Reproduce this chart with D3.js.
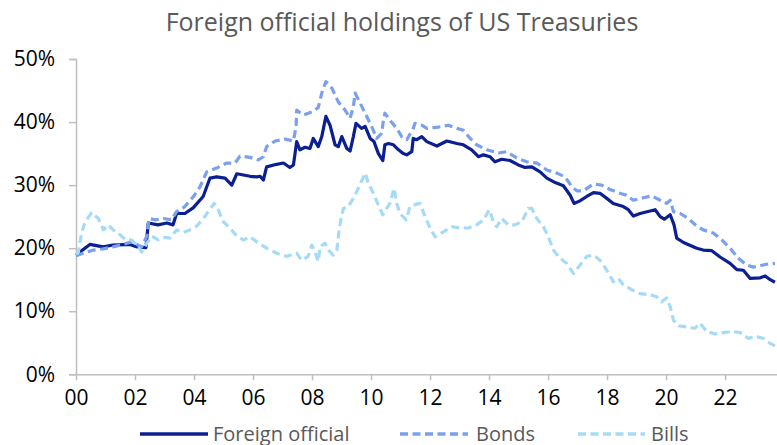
<!DOCTYPE html>
<html>
<head>
<meta charset="utf-8">
<script src="https://cdn.jsdelivr.net/npm/d3@7"></script>
<style>
  html, body { margin: 0; padding: 0; background: #fff; }
  svg { display: block; }
  text { font-family: "Open Sans", "Noto Sans", sans-serif; }
</style>
</head>
<body>
<svg id="chart" width="777" height="445"></svg>
<script>
// ---- Data (decimal year, % of total) ----
const foreignOfficial = [[2000.00,18.9],[2000.47,20.6],[2000.92,20.2],[2001.25,20.5],[2001.83,20.6],[2002.07,20.2],[2002.37,20.1],[2002.45,24.0],[2002.78,23.7],[2003.08,24.0],[2003.29,23.7],[2003.41,25.5],[2003.69,25.5],[2003.97,26.4],[2004.31,28.2],[2004.54,31.1],[2004.77,31.3],[2005.05,31.1],[2005.28,30.0],[2005.45,31.8],[2005.90,31.4],[2006.13,31.3],[2006.24,31.4],[2006.35,30.8],[2006.46,32.9],[2006.80,33.3],[2007.03,33.5],[2007.25,32.8],[2007.37,33.2],[2007.48,36.9],[2007.59,35.6],[2007.76,36.0],[2007.93,35.8],[2008.04,37.4],[2008.21,36.1],[2008.33,37.7],[2008.47,40.9],[2008.61,39.5],[2008.78,36.4],[2008.89,36.1],[2009.01,37.7],[2009.18,35.8],[2009.29,35.4],[2009.40,37.7],[2009.49,39.8],[2009.68,39.0],[2009.80,39.3],[2009.97,37.4],[2010.10,36.9],[2010.25,35.0],[2010.40,33.9],[2010.47,36.4],[2010.59,36.6],[2010.76,36.4],[2010.93,35.6],[2011.09,35.0],[2011.21,34.8],[2011.38,35.3],[2011.43,37.4],[2011.55,37.2],[2011.72,37.7],[2011.89,36.9],[2012.23,36.2],[2012.57,37.0],[2012.91,36.6],[2013.13,36.4],[2013.41,35.6],[2013.64,34.5],[2013.81,34.8],[2014.03,34.5],[2014.20,33.7],[2014.43,34.1],[2014.71,33.9],[2014.99,33.2],[2015.22,32.8],[2015.45,32.9],[2015.73,32.1],[2015.96,31.1],[2016.24,30.4],[2016.52,29.9],[2016.75,28.4],[2016.88,27.1],[2017.08,27.5],[2017.31,28.2],[2017.54,28.8],[2017.76,28.7],[2017.99,27.9],[2018.21,27.1],[2018.55,26.6],[2018.72,26.1],[2018.89,25.1],[2019.12,25.5],[2019.46,25.9],[2019.63,26.1],[2019.80,25.0],[2019.94,24.6],[2020.14,25.3],[2020.27,23.7],[2020.36,21.6],[2020.59,20.9],[2021.04,20.0],[2021.26,19.7],[2021.55,19.6],[2021.83,18.6],[2022.17,17.6],[2022.40,16.6],[2022.62,16.5],[2022.85,15.2],[2023.19,15.3],[2023.36,15.6],[2023.53,15.0],[2023.69,14.6]];

const bonds = [[2000.00,18.8],[2000.24,19.2],[2000.59,19.7],[2000.92,19.9],[2001.25,20.2],[2001.59,20.6],[2001.88,21.0],[2002.05,20.6],[2002.22,20.2],[2002.39,21.8],[2002.48,24.7],[2002.68,24.5],[2002.96,24.7],[2003.24,24.5],[2003.41,25.8],[2003.69,26.6],[2003.98,28.2],[2004.20,29.7],[2004.43,32.1],[2004.77,32.7],[2005.11,33.5],[2005.39,33.5],[2005.56,34.6],[2005.90,34.4],[2006.18,34.0],[2006.35,34.5],[2006.46,36.1],[2006.75,37.0],[2007.08,37.3],[2007.37,37.0],[2007.46,39.3],[2007.48,41.9],[2007.71,41.1],[2007.99,41.6],[2008.21,42.3],[2008.36,45.1],[2008.47,46.4],[2008.67,45.4],[2008.89,43.2],[2009.12,41.9],[2009.29,40.6],[2009.40,42.4],[2009.46,44.6],[2009.63,43.0],[2009.80,41.4],[2010.02,39.3],[2010.19,37.4],[2010.36,38.2],[2010.42,40.3],[2010.47,41.4],[2010.64,40.3],[2010.87,39.0],[2011.04,37.7],[2011.21,37.2],[2011.43,39.0],[2011.49,39.8],[2011.72,39.5],[2011.89,39.0],[2012.28,39.2],[2012.62,39.5],[2012.91,39.0],[2013.13,38.7],[2013.36,37.4],[2013.58,36.4],[2013.92,35.6],[2014.32,35.1],[2014.60,35.3],[2014.94,34.3],[2015.28,33.7],[2015.62,33.5],[2015.96,32.4],[2016.30,31.9],[2016.58,31.3],[2016.81,29.7],[2016.98,29.1],[2017.20,29.1],[2017.54,30.2],[2017.82,30.0],[2018.10,29.3],[2018.38,28.8],[2018.66,28.4],[2018.89,27.6],[2019.23,28.0],[2019.52,28.3],[2019.80,27.6],[2020.02,27.1],[2020.14,27.6],[2020.25,25.8],[2020.48,25.5],[2020.76,24.7],[2021.04,23.5],[2021.26,22.9],[2021.60,22.4],[2021.89,21.3],[2022.17,20.0],[2022.45,18.4],[2022.74,17.3],[2022.96,17.0],[2023.25,17.3],[2023.47,17.5],[2023.69,17.6]];

const bills = [[2000.00,19.0],[2000.08,19.4],[2000.19,22.4],[2000.31,24.2],[2000.53,25.6],[2000.76,24.7],[2000.93,22.9],[2001.09,23.7],[2001.26,22.9],[2001.43,22.4],[2001.66,21.4],[2001.89,21.3],[2002.11,20.2],[2002.23,19.4],[2002.40,20.8],[2002.57,21.9],[2002.79,21.3],[2003.02,21.7],[2003.19,21.6],[2003.41,22.9],[2003.64,22.5],[2003.86,22.9],[2004.09,23.5],[2004.32,24.7],[2004.48,25.8],[2004.68,27.1],[2004.82,26.1],[2004.99,24.2],[2005.22,23.2],[2005.45,21.9],[2005.67,21.3],[2005.90,21.8],[2006.13,21.0],[2006.46,20.0],[2006.80,19.2],[2007.14,18.7],[2007.48,19.2],[2007.65,18.1],[2007.87,18.7],[2007.99,20.5],[2008.10,19.4],[2008.21,17.9],[2008.27,20.2],[2008.44,20.8],[2008.55,19.7],[2008.72,18.9],[2008.84,19.7],[2008.93,23.4],[2009.06,26.3],[2009.23,26.6],[2009.40,27.9],[2009.57,29.5],[2009.80,31.9],[2009.91,30.3],[2010.08,28.7],[2010.25,26.8],[2010.40,25.3],[2010.53,26.3],[2010.64,27.1],[2010.78,29.5],[2010.87,27.1],[2010.98,25.5],[2011.19,24.5],[2011.32,26.6],[2011.49,26.9],[2011.66,27.1],[2011.83,25.0],[2012.00,23.2],[2012.17,21.8],[2012.45,22.6],[2012.74,23.4],[2013.02,23.2],[2013.30,23.2],[2013.58,23.7],[2013.81,24.5],[2014.01,26.1],[2014.15,24.2],[2014.26,23.4],[2014.43,24.7],[2014.65,23.7],[2014.88,23.7],[2015.11,24.2],[2015.33,26.3],[2015.45,26.3],[2015.62,24.7],[2015.84,23.4],[2016.01,21.8],[2016.18,19.7],[2016.41,18.4],[2016.63,17.6],[2016.86,16.0],[2017.08,17.3],[2017.31,18.7],[2017.54,18.9],[2017.76,18.1],[2017.99,16.5],[2018.21,14.7],[2018.38,15.2],[2018.55,14.2],[2018.84,13.4],[2019.12,12.8],[2019.46,12.6],[2019.68,12.3],[2019.85,11.5],[2020.02,12.1],[2020.14,10.7],[2020.25,8.6],[2020.42,7.7],[2020.70,7.5],[2020.98,7.3],[2021.15,8.1],[2021.38,6.8],[2021.66,6.4],[2021.94,6.6],[2022.23,6.8],[2022.51,6.6],[2022.79,5.7],[2023.02,6.0],[2023.30,5.7],[2023.53,4.9],[2023.69,4.5]];

const xTickYears = [2000, 2002, 2004, 2006, 2008, 2010, 2012, 2014, 2016, 2018, 2020, 2022];
const yTickValues = [0, 10, 20, 30, 40, 50];
const seriesNames = ["Foreign official", "Bonds", "Bills"];
const titleText = "Foreign official holdings of US Treasuries";

// ---- Layout ----
const svg = d3.select("#chart");
const X0 = 76, X1 = 777, Y0 = 374.3, Y1 = 59;
const x = d3.scaleLinear().domain([2000, 2023.76]).range([X0, X1]);
const y = d3.scaleLinear().domain([0, 50]).range([Y0, Y1]);

const styles = [
  { color: "#0b1f92", dash: null },
  { color: "#7ba0ec", dash: "8,4.5" },
  { color: "#a6dbf7", dash: "8,4.5" }
];
const allSeries = [foreignOfficial, bonds, bills];

// title
svg.append("text")
  .attr("x", 402).attr("y", 31)
  .attr("text-anchor", "middle")
  .attr("font-size", 25)
  .attr("fill", "#595959")
  .text(titleText);

// y axis
const yAxis = d3.axisLeft(y).tickValues(yTickValues).tickSize(7).tickPadding(14)
  .tickFormat(d => d + "%");
const gy = svg.append("g").attr("transform", `translate(${X0},0)`).call(yAxis);
gy.select(".domain").attr("stroke", "#bfbfbf").attr("stroke-width", 1.5);
gy.selectAll(".tick line").attr("stroke", "#bfbfbf").attr("stroke-width", 1.5);
gy.selectAll(".tick text").attr("font-size", 21).attr("fill", "#000")
  .attr("font-family", "'Open Sans', sans-serif");

// x axis
const xAxis = d3.axisBottom(x).tickValues(xTickYears).tickSize(6).tickPadding(10)
  .tickSizeOuter(0)
  .tickFormat(d => String(d % 100).padStart(2, "0"));
const gx = svg.append("g").attr("transform", `translate(0,${Y0})`).call(xAxis);
gx.select(".domain").attr("stroke", "#bfbfbf").attr("stroke-width", 1.5);
gx.selectAll(".tick line").attr("stroke", "#bfbfbf").attr("stroke-width", 1.5);
gx.selectAll(".tick text").attr("font-size", 21).attr("fill", "#000")
  .attr("font-family", "'Open Sans', sans-serif");

// lines
const line = d3.line().x(d => x(d[0])).y(d => y(d[1]));
allSeries.forEach((s, i) => {
  svg.append("path")
    .datum(s)
    .attr("d", line)
    .attr("fill", "none")
    .attr("stroke", styles[i].color)
    .attr("stroke-width", 3.2)
    .attr("stroke-linejoin", "round")
    .attr("stroke-dasharray", styles[i].dash);
});

// legend
const legendItems = [
  { x1: 140, x2: 208, tx: 213 },
  { x1: 400, x2: 468, tx: 476 },
  { x1: 578, x2: 645, tx: 651 }
];
const ly = 434;
legendItems.forEach((it, i) => {
  svg.append("line")
    .attr("x1", it.x1).attr("x2", it.x2).attr("y1", ly).attr("y2", ly)
    .attr("stroke", styles[i].color).attr("stroke-width", 3.5)
    .attr("stroke-dasharray", styles[i].dash);
  svg.append("text")
    .attr("x", it.tx).attr("y", ly + 6.5)
    .attr("font-size", 20).attr("fill", "#595959")
    .text(seriesNames[i]);
});
</script>
</body>
</html>
